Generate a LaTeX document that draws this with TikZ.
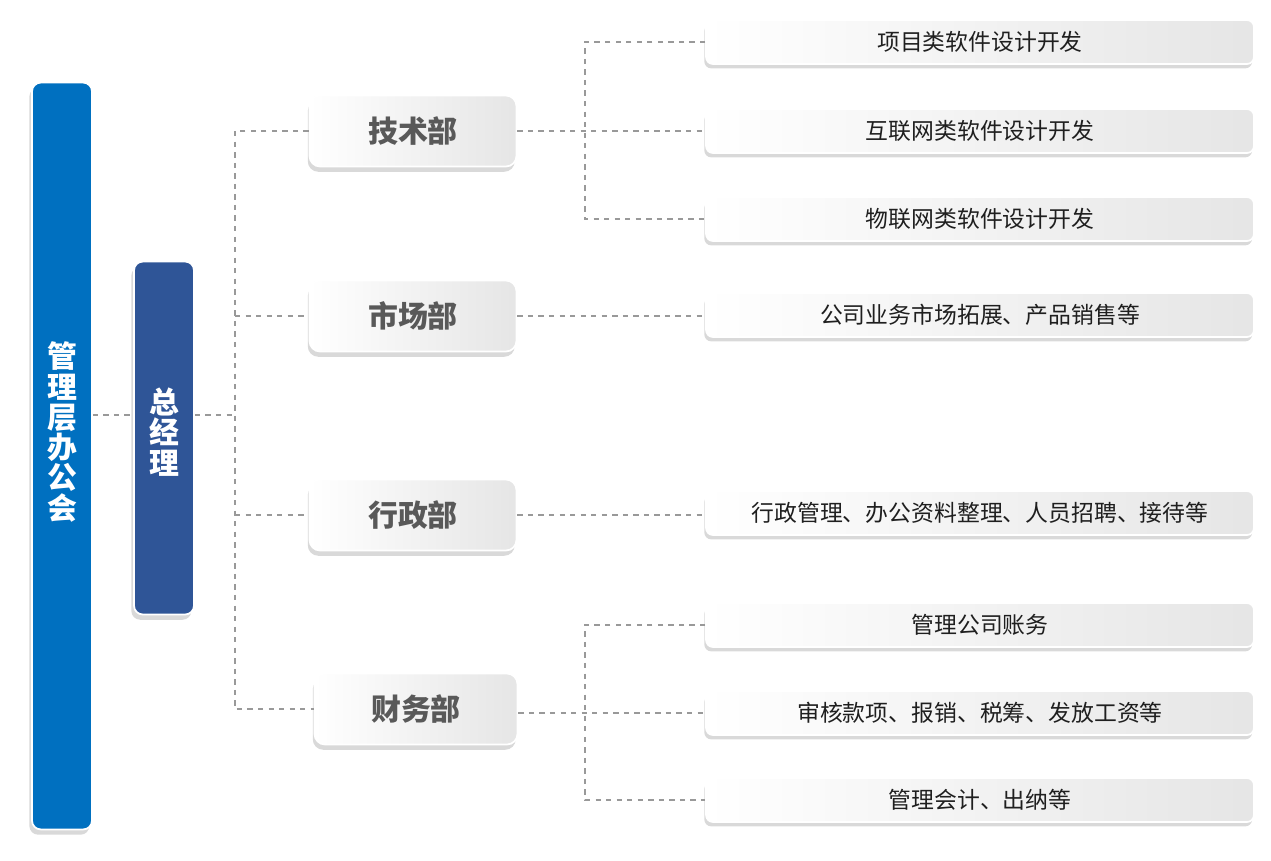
\documentclass[tikz,border=0pt]{standalone}
\usepackage{fontspec}
\setmainfont{Noto Sans CJK SC}
\usepackage{tikz}
\usetikzlibrary{shadows}
\definecolor{barblue}{HTML}{0070C0}
\definecolor{gmblue}{HTML}{2F5597}
\definecolor{depttext}{HTML}{595959}
\definecolor{leaftext}{HTML}{1F1F1F}

\begin{document}
\begin{tikzpicture}[
  x=0.02cm, y=-0.02cm,
  bar/.style={
    rounded corners=5pt, draw=white, line width=1pt,
    minimum width=1.2cm, inner sep=0pt,
    drop shadow={opacity=0.3, shadow xshift=-1.5pt, shadow yshift=-3pt}
  },
  bartext/.style={
    text width=1.2cm, inner sep=0pt, align=center,
    text=white, font=\fontsize{17}{17.2}\selectfont\bfseries
  },
  dept/.style={
    rounded corners=6pt, draw=white, line width=1pt,
    left color=white, right color=black!10,
    minimum width=4.14cm, minimum height=1.42cm,
    text=depttext, font=\fontsize{17}{17}\selectfont\bfseries,
    drop shadow={opacity=0.3, shadow xshift=-1pt, shadow yshift=-3pt}
  },
  leaf/.style={
    rounded corners=4pt, draw=white, line width=1pt,
    left color=white, right color=black!10,
    minimum width=10.96cm, minimum height=0.88cm,
    text=leaftext, font=\fontsize{13}{13}\selectfont,
    drop shadow={opacity=0.3, shadow xshift=-1pt, shadow yshift=-2.5pt}
  },
  conn/.style={draw=black!40, dashed, line width=0.7pt}
]
  \useasboundingbox (0,0) rectangle (1271,860);

  % left bars
  \node[bar, fill=barblue, minimum height=14.94cm] (mgmt) at (62,456){};
  \node[bartext] (mgmttext) at (62,432){管\\理\\层\\办\\公\\会};
  \node[bar, fill=gmblue, minimum height=7.06cm] (gm) at (164,438){};
  \node[bartext] (gmtext) at (164,432){总\\经\\理};

  % departments
  \node[dept] (tech) at (413,131){技术部};
  \node[dept] (mkt) at (413,316){市场部};
  \node[dept] (admin) at (413,515){行政部};
  \node[dept, minimum width=4.06cm] (fin) at (416,709){财务部};

  % duties
  \foreach \y/\name/\txt in {42/t1/项目类软件设计开发,
                            131/t2/互联网类软件设计开发,
                            219/t3/物联网类软件设计开发,
                            315/m1/公司业务市场拓展、产品销售等,
                            513/a1/行政管理、办公资料整理、人员招聘、接待等,
                            625/f1/管理公司账务,
                            713/f2/审核款项、报销、税筹、发放工资等,
                            800/f3/管理会计、出纳等} {
    \node[leaf] (\name) at (980,\y){\txt};
  }

  % connectors
  \coordinate (trunk) at (235,415);
  \coordinate (techsplit) at (585,131);
  \coordinate (finsplit) at (585,713);
  \draw[conn] (mgmt.east |- trunk) -- (gm.west |- trunk);
  \draw[conn] (gm.east |- trunk) -- (trunk);
  \draw[conn] (tech.west) -- (tech.west -| trunk) -- (fin.west -| trunk) -- (fin.west);
  \draw[conn] (mkt.west -| trunk) -- (mkt.west);
  \draw[conn] (admin.west -| trunk) -- (admin.west);

  \draw[conn] (tech.east) -- (techsplit) -- (t2.west);
  \draw[conn] (t1.west) -| (techsplit) |- (t3.west);
  \draw[conn] (mkt.east) -- (mkt.east -| m1.west);
  \draw[conn] (admin.east) -- (admin.east -| a1.west);
  \draw[conn] (fin.east |- finsplit) -- (finsplit) -- (f2.west);
  \draw[conn] (f1.west) -| (finsplit) |- (f3.west);
\end{tikzpicture}
\end{document}
